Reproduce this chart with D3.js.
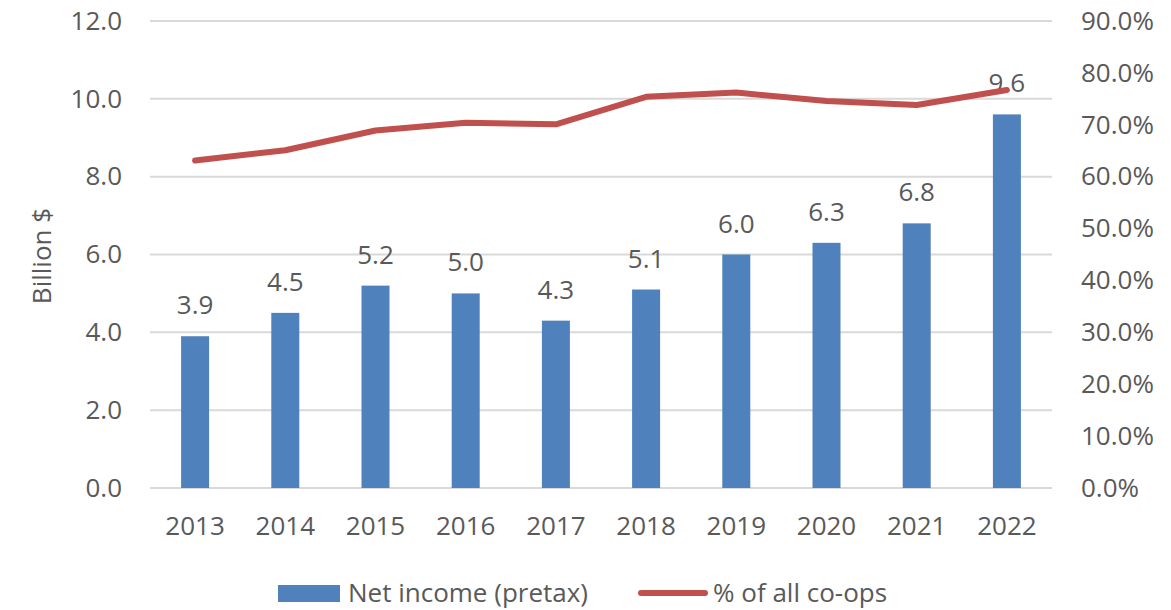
<!DOCTYPE html>
<html><head><meta charset="utf-8">
<script src="https://cdn.jsdelivr.net/npm/d3@7"></script>
<style>body{margin:0;background:#fff}svg{display:block}text{font-family:"Open Sans",sans-serif;fill:#595959}</style>
</head><body><svg id="c" width="1171" height="610"></svg>
<script>
const years = ["2013","2014","2015","2016","2017","2018","2019","2020","2021","2022"];
const netIncome = [3.9,4.5,5.2,5.0,4.3,5.1,6.0,6.3,6.8,9.6];
const pctCoops = [0.631,0.651,0.689,0.704,0.701,0.754,0.762,0.746,0.738,0.767];
const leftTicks = [0,2,4,6,8,10,12];
const rightTicks = [0,0.1,0.2,0.3,0.4,0.5,0.6,0.7,0.8,0.9];

const svg = d3.select("#c");
const fs = 26;
const x = d3.scaleBand().domain(years).range([150,1052]).padding(0);
const yL = d3.scaleLinear().domain([0,12]).range([488,21]);
const yR = d3.scaleLinear().domain([0,0.9]).range([488,21]);

// gridlines
svg.append("g").selectAll("line").data(leftTicks).join("line")
  .attr("x1",150).attr("x2",1052).attr("y1",d=>yL(d)).attr("y2",d=>yL(d))
  .attr("stroke","#d9d9d9").attr("stroke-width",2);

// left axis
const la = svg.append("g").attr("transform","translate(122,0)")
  .call(d3.axisLeft(yL).tickValues(leftTicks).tickFormat(d3.format(".1f")).tickSize(0).tickPadding(0));
la.select(".domain").remove();
la.selectAll("text").style("font-size",fs+"px").attr("fill","#595959").style("font-family","'Open Sans',sans-serif");

// right axis
const ra = svg.append("g").attr("transform","translate(1081,0)")
  .call(d3.axisRight(yR).tickValues(rightTicks).tickFormat(d3.format(".1%")).tickSize(0).tickPadding(0));
ra.select(".domain").remove();
ra.selectAll("text").style("font-size",fs+"px").attr("fill","#595959").style("font-family","'Open Sans',sans-serif");

// x axis
const xa = svg.append("g").attr("transform","translate(0,517)")
  .call(d3.axisBottom(x).tickSize(0).tickPadding(0));
xa.select(".domain").remove();
xa.selectAll("text").style("font-size",fs+"px").attr("fill","#595959").style("font-family","'Open Sans',sans-serif");

// bars
const bw = 28;
svg.append("g").selectAll("rect").data(years).join("rect")
  .attr("x",(d)=>x(d)+x.bandwidth()/2-bw/2)
  .attr("width",bw)
  .attr("y",(d,i)=>yL(netIncome[i]))
  .attr("height",(d,i)=>yL(0)-yL(netIncome[i]))
  .attr("fill","#4f81bd");

// data labels
svg.append("g").selectAll("text").data(years).join("text")
  .attr("x",d=>x(d)+x.bandwidth()/2)
  .attr("y",(d,i)=>yL(netIncome[i])-22)
  .attr("text-anchor","middle")
  .style("font-size",fs+"px").attr("fill","#404040")
  .text((d,i)=>netIncome[i].toFixed(1));

// line
const line = d3.line().x((d,i)=>x(years[i])+x.bandwidth()/2).y(d=>yR(d));
svg.append("path").datum(pctCoops).attr("d",line)
  .attr("fill","none").attr("stroke","#c0504d").attr("stroke-width",6)
  .attr("stroke-linecap","round").attr("stroke-linejoin","round");

// y title
svg.append("text").attr("transform","translate(51,256) rotate(-90)")
  .attr("text-anchor","middle").style("font-size",fs+"px").text("Billion $");

// legend
svg.append("rect").attr("x",278).attr("y",585).attr("width",62).attr("height",17).attr("fill","#4f81bd");
svg.append("text").attr("x",348).attr("y",602).style("font-size",fs+"px").text("Net income (pretax)");
svg.append("line").attr("x1",641).attr("x2",705).attr("y1",593).attr("y2",593)
  .attr("stroke","#c0504d").attr("stroke-width",6).attr("stroke-linecap","round");
svg.append("text").attr("x",713).attr("y",602).style("font-size",fs+"px").text("% of all co-ops");
</script></body></html>
